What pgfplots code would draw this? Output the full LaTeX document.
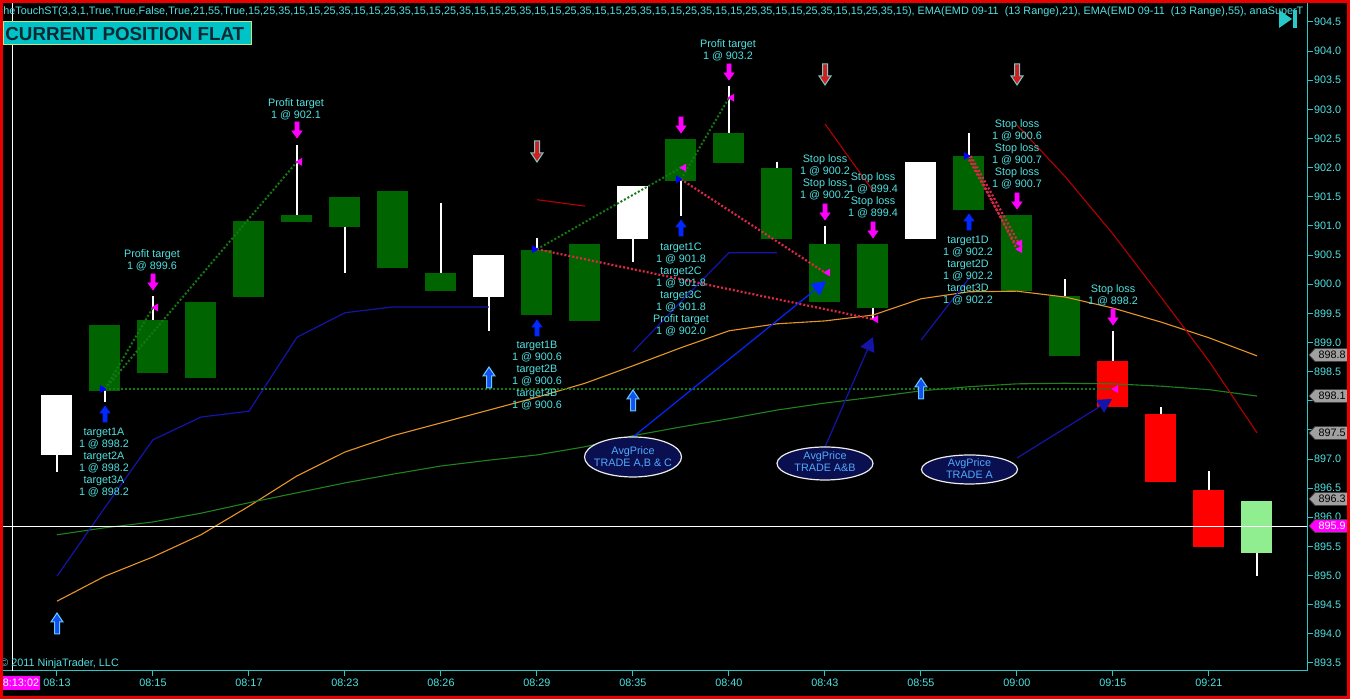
\documentclass[border=0pt]{standalone}
\usepackage{pgfplots}
\usepackage{pgfplotstable}
\usepackage{graphicx}
\pgfplotsset{compat=1.18}
\usepackage{fontspec}
\setmainfont{Liberation Sans}
\usetikzlibrary{arrows.meta}

\definecolor{bgred}{RGB}{235,0,0}
\definecolor{txtc}{RGB}{80,225,225}
\definecolor{axc}{RGB}{40,200,200}
\definecolor{cgreen}{RGB}{0,100,0}
\definecolor{cred}{RGB}{255,0,0}
\definecolor{clgreen}{RGB}{144,238,144}
\definecolor{emaor}{RGB}{230,150,40}
\definecolor{emagr}{RGB}{30,130,30}
\definecolor{stblue}{RGB}{20,20,170}
\definecolor{stred}{RGB}{180,0,0}
\definecolor{dotgr}{RGB}{20,120,20}
\definecolor{dotred}{RGB}{220,40,70}
\definecolor{mag}{RGB}{255,0,255}
\definecolor{arblue}{RGB}{0,40,255}
\definecolor{avgfill}{RGB}{10,15,80}
\definecolor{avgtxt}{RGB}{80,170,255}
\definecolor{taggray}{RGB}{160,160,160}
\definecolor{boxcyan}{RGB}{0,195,200}
\definecolor{boxtxt}{RGB}{10,40,50}
\definecolor{hollowfill}{RGB}{20,80,240}
\definecolor{hollowdraw}{RGB}{100,200,255}
\definecolor{redarr}{RGB}{210,30,30}
\definecolor{redarrdraw}{RGB}{120,200,200}

\newcommand{\sm}{\fontsize{5.4}{6}\selectfont}

% candles
\pgfplotstableread{
x lo hi
0 896.78 898.10
1 897.98 899.30
2 898.48 899.80
3 898.39 899.70
4 899.78 901.09
5 901.07 902.39
6 900.19 901.50
7 900.28 901.60
8 899.88 901.39
9 899.20 900.50
10 899.47 900.79
11 899.37 900.69
12 900.38 901.69
13 901.17 902.49
14 902.08 903.40
15 900.78 902.10
16 899.70 901.00
17 899.39 900.69
18 900.78 902.10
19 901.27 902.60
20 899.88 901.19
21 898.77 900.09
22 897.89 899.20
23 896.61 897.89
24 895.49 896.79
25 894.99 896.28
}\wicks
\pgfplotstableread{
x lo hi
1 898.17 899.30
2 898.48 899.39
3 898.39 899.70
4 899.78 901.09
5 901.07 901.19
6 900.98 901.50
7 900.28 901.60
8 899.88 900.19
10 899.47 900.59
11 899.37 900.69
13 901.77 902.49
14 902.08 902.60
15 900.78 901.99
16 899.70 900.69
17 899.59 900.69
19 901.27 902.20
20 899.88 901.19
21 898.77 899.80
}\bgreen
\pgfplotstableread{
x lo hi
0 897.07 898.10
9 899.78 900.50
12 900.78 901.69
18 900.78 902.10
}\bwhite
\pgfplotstableread{
x lo hi
22 897.89 898.68
23 896.61 897.77
24 895.49 896.47
}\bred
\pgfplotstableread{
x lo hi
25 895.39 896.28
}\blgreen

\newcommand{\candles}[3]{%
\addplot[draw=none, no markers, forget plot, error bars/.cd, y dir=plus, y explicit,
  error mark=none, error bar style={draw=#2, line width=#3, solid}]
  table[x=x, y=lo, y error expr=\thisrow{hi}-\thisrow{lo}] {#1};}

% arrows in pixel scope
\newcommand{\upA}[3]{\filldraw[fill=#3,draw=#3,line width=0.3pt] (#1,#2) -- ++(5,7) -- ++(-3,0) -- ++(0,9) -- ++(-4,0) -- ++(0,-9) -- ++(-3,0) -- cycle;}
\newcommand{\dnA}[3]{\filldraw[fill=#3,draw=#3,line width=0.3pt] (#1,#2) -- ++(5,-7) -- ++(-3,0) -- ++(0,-9) -- ++(-4,0) -- ++(0,9) -- ++(-3,0) -- cycle;}
\newcommand{\upB}[2]{\filldraw[fill=hollowfill,draw=hollowdraw,line width=0.5pt] (#1,#2) -- ++(6,9) -- ++(-3.5,0) -- ++(0,12) -- ++(-5,0) -- ++(0,-12) -- ++(-3.5,0) -- cycle;}
\newcommand{\dnB}[2]{\filldraw[fill=redarr,draw=redarrdraw,line width=0.5pt] (#1,#2) -- ++(6,-9) -- ++(-3.5,0) -- ++(0,-12) -- ++(-5,0) -- ++(0,12) -- ++(-3.5,0) -- cycle;}
\newcommand{\ptag}[4]{\filldraw[fill=#3, draw=gray!50!black, line width=0.4pt] (1309,#1) -- (1315,#1-6.5) -- (1348,#1-6.5) -- (1348,#1+6.5) -- (1315,#1+6.5) -- cycle;
  \node[font=\sm, text=#4, inner sep=0pt] at (1332,#1) {#2};}

\begin{document}
\begin{tikzpicture}
\path[use as bounding box] (0,0) rectangle (675pt,349.5pt);
\fill[black] (0,0) rectangle (675pt,349.5pt);
\begin{axis}[
  at={(1.5pt,14pt)}, anchor=south west,
  scale only axis, width=652pt, height=334pt,
  xmin=-1.125, xmax=26.042, ymin=893.362, ymax=904.826,
  axis x line*=bottom, axis y line*=right,
  axis line style={draw=axc, line width=0.5pt, -},
  tick style={draw=axc, line width=0.5pt},
  tick align=outside, major tick length=2.75pt,
  xtick={0,2,4,6,8,10,12,14,16,18,20,22,24},
  xticklabels={08:13,08:15,08:17,08:23,08:26,08:29,08:35,08:40,08:43,08:55,09:00,09:15,09:21},
  ytick={893.5,894,894.5,895,895.5,896,896.5,897,897.5,898,898.5,899,899.5,900,900.5,901,901.5,902,902.5,903,903.5,904,904.5},
  yticklabels={893.5,894.0,894.5,895.0,895.5,896.0,896.5,897.0,{},{},898.5,899.0,899.5,900.0,900.5,901.0,901.5,902.0,902.5,903.0,903.5,904.0,904.5},
  yticklabel style={font=\sm, text=txtc, inner sep=0.6pt, anchor=west},
  xticklabel style={font=\sm, text=txtc, inner sep=0.8pt, anchor=north},
]
% wicks and bodies
\candles{\wicks}{white}{0.6pt}
\candles{\bgreen}{cgreen}{15.5pt}
\candles{\bwhite}{white}{15.5pt}
\candles{\bred}{cred}{15.5pt}
\candles{\blgreen}{clgreen}{15.5pt}

% EMA 21 (orange)
\addplot[emaor, line width=0.55pt] coordinates {
(0,894.56) (1,894.99) (2,895.32) (3,895.70) (4,896.19) (5,896.71) (6,897.12) (7,897.40) (8,897.62) (9,897.84) (10,898.06) (11,898.30) (12,898.60) (13,898.91) (14,899.20) (15,899.32) (16,899.37) (17,899.47) (18,899.75) (19,899.87) (20,899.88) (21,899.78) (22,899.59) (23,899.35) (24,899.08) (25,898.77)};
% EMA 55 (green)
\addplot[emagr, line width=0.55pt] coordinates {
(0,895.70) (1,895.82) (2,895.92) (3,896.07) (4,896.25) (5,896.42) (6,896.59) (7,896.74) (8,896.88) (9,896.98) (10,897.07) (11,897.21) (12,897.40) (13,897.55) (14,897.69) (15,897.84) (16,897.96) (17,898.06) (18,898.17) (19,898.24) (20,898.29) (21,898.30) (22,898.29) (23,898.25) (24,898.19) (25,898.08)};
% supertrend blue segments
\addplot[stblue, line width=0.6pt] coordinates {(0,894.99) (1,896.17) (2,897.33) (3,897.72) (4,897.82) (5,899.09) (6,899.51) (7,899.61) (8,899.61) (9,899.61)};
\addplot[stblue, line width=0.6pt] coordinates {(12,898.84) (13,899.70) (14,900.54) (15,900.54)};
\addplot[stblue, line width=0.6pt] coordinates {(18,899.04) (19,900.10)};
% supertrend red segments
\addplot[stred, line width=0.55pt] coordinates {(10,901.45) (11,901.34)};
\addplot[stred, line width=0.55pt] coordinates {(16,902.75) (17,901.60)};
\addplot[stred, line width=0.55pt] coordinates {(20,902.73) (21,901.85) (22,900.86) (23,899.78) (24,898.68) (25,897.45)};
% current price line
\addplot[white, line width=0.5pt] coordinates {(-1.125,895.85) (26.042,895.85)};

% trade lines
\addplot[dotgr, line width=1pt, dash pattern=on 1pt off 1pt] coordinates {(1,898.2) (2,899.6)};
\addplot[dotgr, line width=1pt, dash pattern=on 1pt off 1pt] coordinates {(1,898.2) (5,902.1)};
\addplot[dotgr, line width=1pt, dash pattern=on 1pt off 1pt] coordinates {(1,898.2) (22,898.2)};
\addplot[dotgr, line width=1pt, dash pattern=on 1pt off 1pt] coordinates {(10,900.6) (13,902.0)};
\addplot[dotgr, line width=1pt, dash pattern=on 1pt off 1pt] coordinates {(13,901.8) (14,903.2)};
\addplot[dotred, line width=1.1pt, dash pattern=on 1pt off 1pt] coordinates {(10,900.6) (17,899.4)};
\addplot[dotred, line width=1.1pt, dash pattern=on 1pt off 1pt] coordinates {(13,901.8) (16,900.2)};
\addplot[dotred, line width=1.1pt, dash pattern=on 1pt off 1pt] coordinates {(19,902.2) (20,900.6)};
\addplot[dotred, line width=1.1pt, dash pattern=on 1pt off 1pt] coordinates {(19.04,902.2) (20.04,900.7)};
\addplot[dotred, line width=1.1pt, dash pattern=on 1pt off 1pt] coordinates {(18.96,902.2) (19.96,900.7)};

% entry / exit markers
\addplot[only marks, mark=triangle*, mark size=1.9pt, mark options={rotate=-90, fill=blue, draw=blue}] coordinates {(0.94,898.2) (9.94,900.6) (12.94,901.8) (18.94,902.2)};
\addplot[only marks, mark=triangle*, mark size=1.9pt, mark options={rotate=90, fill=mag, draw=mag}] coordinates {(2.06,899.6) (5.06,902.1) (22.06,898.2) (13.06,902.0) (17.06,899.4) (14.06,903.2) (16.06,900.2) (20.06,900.6) (20.06,900.7)};
\end{axis}

\begin{scope}[x=0.5pt,y=-0.5pt,yshift=349.5pt]
% cursor line
\draw[white, line width=0.5pt] (12,3) -- (12,671);
% header
\node[anchor=west, inner sep=0pt, text=txtc] at (3,12) {\resizebox{650pt}{\height}{\sm heTouchST(3,3,1,True,True,False,True,21,55,True,15,25,35,15,15,25,35,15,15,25,35,15,15,25,35,15,15,25,35,15,15,25,35,15,15,25,35,15,15,25,35,15,15,25,35,15,15,25,35,15,15,25,35,15), EMA(EMD 09-11\ \ (13 Range),21), EMA(EMD 09-11\ \ (13 Range),55), anaSuperT}};
% play-to-end icon
\fill[axc] (1279,10) -- (1292,19) -- (1279,28) -- cycle;
\fill[axc] (1293,10) rectangle (1297,28);
% position box
\filldraw[fill=boxcyan, draw={rgb,255:red,200;green,230;blue,120}, line width=0.5pt] (3,22) rectangle (251,45);
\node[anchor=west, inner sep=0pt, text=boxtxt, font=\bfseries\fontsize{9.4}{10}\selectfont] at (5,34) {CURRENT POSITION FLAT};

% annotations
\begin{scope}[every node/.style={text=txtc, align=center, inner sep=0pt, font=\sm}]
\node at (104,462.5) {target1A\\1 @ 898.2\\target2A\\1 @ 898.2\\target3A\\1 @ 898.2};
\node at (152,260) {Profit target\\1 @ 899.6};
\node at (296,109) {Profit target\\1 @ 902.1};
\node at (537,376) {target1B\\1 @ 900.6\\target2B\\1 @ 900.6\\target3B\\1 @ 900.6};
\node at (681,289) {target1C\\1 @ 901.8\\target2C\\1 @ 901.8\\target3C\\1 @ 901.8\\Profit target\\1 @ 902.0};
\node at (728,50) {Profit target\\1 @ 903.2};
\node at (825,177) {Stop loss\\1 @ 900.2\\Stop loss\\1 @ 900.2};
\node at (873,195) {Stop loss\\1 @ 899.4\\Stop loss\\1 @ 899.4};
\node at (968,270.5) {target1D\\1 @ 902.2\\target2D\\1 @ 902.2\\target3D\\1 @ 902.2};
\node at (1017,154.5) {Stop loss\\1 @ 900.6\\Stop loss\\1 @ 900.7\\Stop loss\\1 @ 900.7};
\node at (1113,295) {Stop loss\\1 @ 898.2};
\end{scope}

% signal arrows
\upA{105}{406}{arblue} \upA{537}{320}{arblue} \upA{681}{220}{arblue} \upA{969}{214}{arblue}
\dnA{153}{290}{mag} \dnA{297}{138}{mag} \dnA{681}{133}{mag} \dnA{729}{80}{mag}
\dnA{825}{220}{mag} \dnA{873}{238}{mag} \dnA{1017}{209}{mag} \dnA{1113}{325}{mag}
\upB{57}{613} \upB{489}{367} \upB{633}{390} \upB{921}{378}
\dnB{537}{162} \dnB{825}{85} \dnB{1017}{85}

% AvgPrice arrows and ellipses
\draw[arblue, line width=0.6pt, -{Triangle[length=7pt,width=7.5pt]}] (633,437) -- (826,281);
\draw[stblue, line width=0.6pt, -{Triangle[length=7pt,width=7.5pt]}] (825,447) -- (873,337);
\draw[stblue, line width=0.6pt, -{Triangle[length=7pt,width=7.5pt]}] (1017,458) -- (1112,399);
\filldraw[fill=avgfill, draw=white!85!gray, line width=0.6pt] (633,457) ellipse [x radius=48.5, y radius=20];
\filldraw[fill=avgfill, draw=white!85!gray, line width=0.6pt] (825,463.5) ellipse [x radius=48, y radius=16.5];
\filldraw[fill=avgfill, draw=white!85!gray, line width=0.6pt] (969.5,469.5) ellipse [x radius=48, y radius=14.5];
\node[text=avgtxt, align=center, inner sep=0pt, font=\sm] at (633,457.5) {AvgPrice\\TRADE A,B \& C};
\node[text=avgtxt, align=center, inner sep=0pt, font=\sm] at (825,461.5) {AvgPrice\\TRADE A\&B};
\node[text=avgtxt, align=center, inner sep=0pt, font=\sm] at (969.5,468.5) {AvgPrice\\TRADE A};

% right-axis tags
\ptag{355}{898.8}{taggray}{black}
\ptag{396}{898.1}{taggray}{black}
\ptag{433}{897.5}{taggray}{black}
\ptag{499}{896.3}{taggray}{black}
\ptag{526}{895.9}{mag}{white}

% bottom-left
\node[anchor=west, inner sep=0pt, text=txtc, font=\sm] at (0,664) {\textcopyright\ 2011 NinjaTrader, LLC};
\fill[mag] (2,676) rectangle (40,690);
\node[inner sep=0pt, text=white, font=\sm] at (21,683) {8:13:02};
\end{scope}
\draw[bgred, line width=1.5pt] (0.75pt,0.75pt) rectangle (674.25pt,348.75pt);
\end{tikzpicture}
\end{document}
